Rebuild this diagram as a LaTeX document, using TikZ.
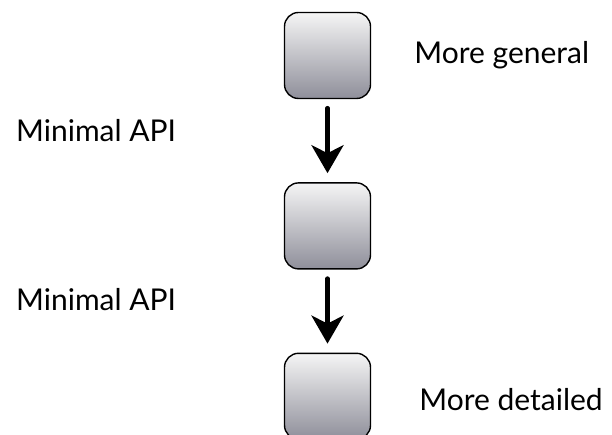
\documentclass[tikz,border=0pt]{standalone}
\usepackage{fontspec}
\setmainfont{Lato}
\usepackage{tikz}
\usetikzlibrary{arrows.meta, positioning}

\begin{document}
\begin{tikzpicture}[
  x=1pt, y=-1pt,
  font=\fontsize{30}{36}\selectfont,
  node distance=83pt and 42pt,
  level/.style={
    draw=black,
    line width=1.4pt,
    rounded corners=14pt,
    minimum width=86pt,
    minimum height=86pt,
    top color=gray!8,
    bottom color=black!45!blue!10!gray!80,
    inner sep=0pt
  },
  label/.style={inner sep=0pt, anchor=west},
  refine/.style={-{Stealth[length=28pt, width=32pt, inset=8pt]}, line width=4.5pt, line cap=round}
]
\useasboundingbox (0,0) rectangle (612,435);

% ================= levels =================
\node[level] (top) at (327.5,55.5) {};
\node[level, below=of top] (mid) {};
\node[level, below=of mid] (bot) {};

% ================= arrows =================
\draw[refine] ([yshift=-9pt]top.south) -- ([yshift=9pt]mid.north);
\draw[refine] ([yshift=-9pt]mid.south) -- ([yshift=9pt]bot.north);

% ================= labels =================
\node[label, right=43pt of top] (general) {More general};
\node[label, right=48pt of bot, yshift=-3pt] (detailed) {More detailed};
\node[label, anchor=base west] (api1) at (16,142) {Minimal API};
\node[label, anchor=base west] (api2) at (16,310) {Minimal API};

\end{tikzpicture}
\end{document}
